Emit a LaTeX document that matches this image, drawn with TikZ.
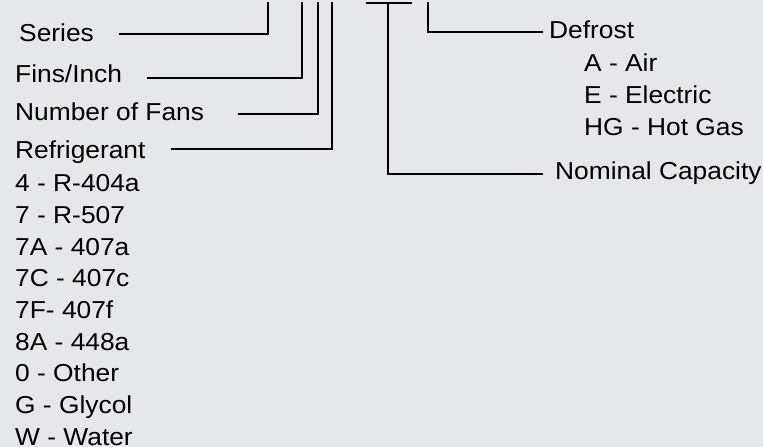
\documentclass[tikz,border=0pt]{standalone}
\usepackage{fontspec}
\setmainfont{Liberation Sans}[FakeStretch=1.075]
\usetikzlibrary{positioning}
\definecolor{panel}{RGB}{230,231,232}

\begin{document}
\begin{tikzpicture}[x=1pt, y=-1pt, node distance=31.7pt,
        txt/.style={font=\fontsize{24.5}{29}\selectfont, inner sep=0pt, anchor=base west},
        lead/.style={draw=black, line width=2.3pt}]
    \fill[panel] (0,0) rectangle (763,447);
    \useasboundingbox (0,0) rectangle (763,447);

    % upper ends of the leads
    \coordinate (series-top) at (268,1.5);
    \coordinate (fins-top) at (302,1.5);
    \coordinate (fans-top) at (318,1.5);
    \coordinate (refr-top) at (331.7,1.5);
    \coordinate (bar-left) at (366,3);
    \coordinate (bar-right) at (412,3);
    \coordinate (cap-top) at (388,3);
    \coordinate (defrost-top) at (427.7,1.5);

    % left column
    \node[txt] (series) at (19,41.7) {Series};
    \node[txt] (fins) at (15,82.7) {Fins/Inch};
    \node[txt] (fans) at (15,120) {Number of Fans};
    \node[txt] (refr) at (15,158.3) {Refrigerant};
    \node[txt, below=33.4pt of refr.base west, anchor=base west] (r404) {4 - R-404a};
    \node[txt, below=of r404.base west, anchor=base west] (r507) {7 - R-507};
    \node[txt, below=of r507.base west, anchor=base west] (r407a) {7A - 407a};
    \node[txt, below=of r407a.base west, anchor=base west] (r407c) {7C - 407c};
    \node[txt, below=of r407c.base west, anchor=base west] (r407f) {7F- 407f};
    \node[txt, below=of r407f.base west, anchor=base west] (r448a) {8A - 448a};
    \node[txt, below=of r448a.base west, anchor=base west] (other) {0 - Other};
    \node[txt, below=of other.base west, anchor=base west] (glycol) {G - Glycol};
    \node[txt, below=of glycol.base west, anchor=base west] (water) {W - Water};

    % right column
    \node[txt] (defrost) at (549,38.3) {Defrost};
    \node[txt] (air) at (584,71) {A - Air};
    \node[txt, below=32pt of air.base west, anchor=base west] (elec) {E - Electric};
    \node[txt, below=32pt of elec.base west, anchor=base west] (hotgas) {HG - Hot Gas};
    \node[txt] (cap) at (555,179) {Nominal Capacity};

    \draw[lead] (series.base east) ++(25,-7.7) -| (series-top);
    \draw[lead] (fins.base east) ++(25,-5) -| (fins-top);
    \draw[lead] (fans.base east) ++(34,-5.7) -| (fans-top);
    \draw[lead] (refr.base east) ++(25,-9.3) -| (refr-top);
    \draw[lead] (bar-left) -- (bar-right);
    \draw[lead] (cap-top) |- ([shift={(-12,-4.7)}]cap.base west);
    \draw[lead] (defrost-top) |- ([shift={(-6,-6)}]defrost.base west);
\end{tikzpicture}
\end{document}
